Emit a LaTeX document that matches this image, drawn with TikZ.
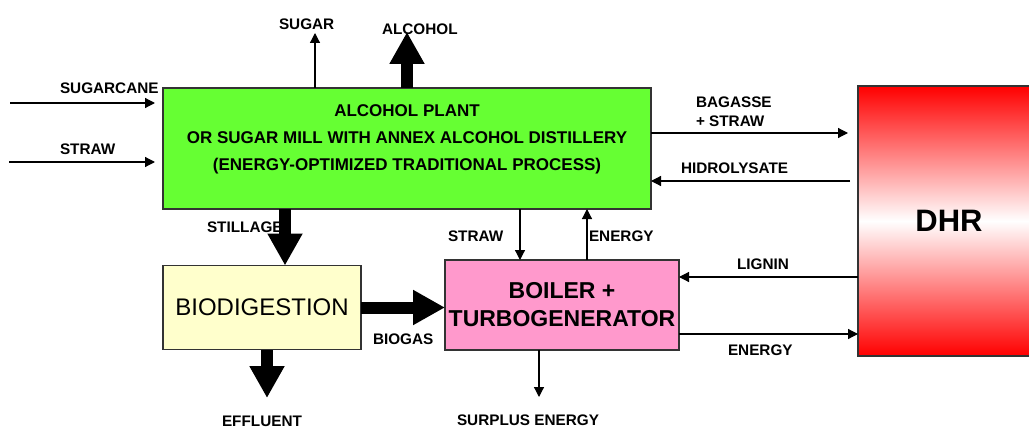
\documentclass[tikz,border=0pt]{standalone}
\usepackage{fontspec}
\setmainfont{Liberation Sans}
\usetikzlibrary{arrows.meta}
\definecolor{plantgreen}{HTML}{66FF33}
\definecolor{bioyellow}{HTML}{FFFFCC}
\definecolor{boilpink}{HTML}{FF99CC}
\definecolor{boxline}{HTML}{333333}
\begin{document}
\begin{tikzpicture}[x=1pt,y=-1pt,
  box/.style={draw=boxline,line width=1.2pt,inner sep=0pt,outer sep=0pt,anchor=center},
  lbl/.style={inner sep=0pt,outer sep=0pt,anchor=base west,font=\bfseries\fontsize{15.3}{18}\selectfont},
  thinarrow/.style={line width=1.2pt,-{Triangle[length=10pt,width=10pt]}},
  thickarrow/.style={line width=12pt,-{Triangle[length=32pt,width=33pt]}}]
\useasboundingbox (0,0) rectangle (1029,428);
% boxes
\node[box,fill=plantgreen,minimum width=488pt,minimum height=121pt] (plant) at (407,148.5) {};
\node[inner sep=0pt,align=center,font=\bfseries\fontsize{17}{27}\selectfont,anchor=base] (planttext) at (407,170)
  {ALCOHOL PLANT\\OR SUGAR MILL WITH ANNEX ALCOHOL DISTILLERY\\(ENERGY-OPTIMIZED TRADITIONAL PROCESS)};
\node[box,fill=bioyellow,minimum width=198pt,minimum height=84pt,font=\fontsize{24}{28}\selectfont] (bio) at (262,307.5) {BIODIGESTION};
\node[box,fill=boilpink,minimum width=234pt,minimum height=90pt,align=center,font=\bfseries\fontsize{23}{28}\selectfont] (boiler) at (562,305) {BOILER +\\TURBOGENERATOR};
\node[box,top color=red,bottom color=red,middle color=white,minimum width=182pt,minimum height=270pt,font=\bfseries\fontsize{31}{36}\selectfont] (dhr) at (949,221) {DHR};
% coordinates for free ends
\coordinate (scin) at (10,103);
\coordinate (stin) at (9,162);
\coordinate (sugarout) at (315,33);
\coordinate (alcout) at (407,32);
\coordinate (effout) at (267,398);
\coordinate (surout) at (539,397);
\coordinate (bagfrom) at (651,133);
\coordinate (bagto) at (848,133);
\coordinate (hidfrom) at (850,181);
\coordinate (ligfrom) at (858,277);
\coordinate (enfrom) at (679,334);
\coordinate (stillfrom) at (285,209);
\coordinate (strawfrom) at (520,209);
\coordinate (energyfrom) at (587,260);
\coordinate (efffrom) at (267,350);
\coordinate (surfrom) at (539,350);
% thin arrows
\draw[thinarrow,shorten >=8pt] (scin) -- (scin -| plant.west);
\draw[thinarrow,shorten >=8pt] (stin) -- (stin -| plant.west);
\draw[thinarrow] (sugarout |- plant.north) -- (sugarout);
\draw[thinarrow] (bagfrom) -- (bagto);
\draw[thinarrow] (hidfrom) -- (hidfrom -| plant.east);
\draw[thinarrow] (ligfrom) -- (ligfrom -| boiler.east);
\draw[thinarrow] (enfrom) -- (enfrom -| dhr.west);
\draw[thinarrow] (strawfrom) -- (strawfrom |- boiler.north);
\draw[thinarrow] (energyfrom) -- (energyfrom |- plant.south);
\draw[thinarrow] (surfrom) -- (surout);
% thick arrows
\draw[thickarrow] (plant.north) -- (alcout);
\draw[thickarrow] (stillfrom) -- (stillfrom |- bio.north);
\draw[thickarrow] (bio.east) -- (bio.east -| boiler.west);
\draw[thickarrow] (efffrom) -- (effout);
% labels
\node[lbl] (lsc) at (60,94) {SUGARCANE};
\node[lbl] (lst) at (60,154) {STRAW};
\node[lbl] (lsu) at (279,30) {SUGAR};
\node[lbl] (lal) at (382,35) {ALCOHOL};
\node[lbl] (lbag) at (696,107) {BAGASSE};
\node[lbl] (lbag2) at (696,127) {+ STRAW};
\node[lbl] (lhid) at (681,173) {HIDROLYSATE};
\node[lbl] (lsti) at (207,232) {STILLAGE};
\node[lbl] (lstm) at (448,241) {STRAW};
\node[lbl] (lenu) at (589,241) {ENERGY};
\node[lbl] (llig) at (737,269) {LIGNIN};
\node[lbl] (lbgs) at (373,344) {BIOGAS};
\node[lbl] (lenr) at (728,355) {ENERGY};
\node[lbl] (leff) at (222,426) {EFFLUENT};
\node[lbl] (lsur) at (457,425) {SURPLUS ENERGY};
\end{tikzpicture}
\end{document}
